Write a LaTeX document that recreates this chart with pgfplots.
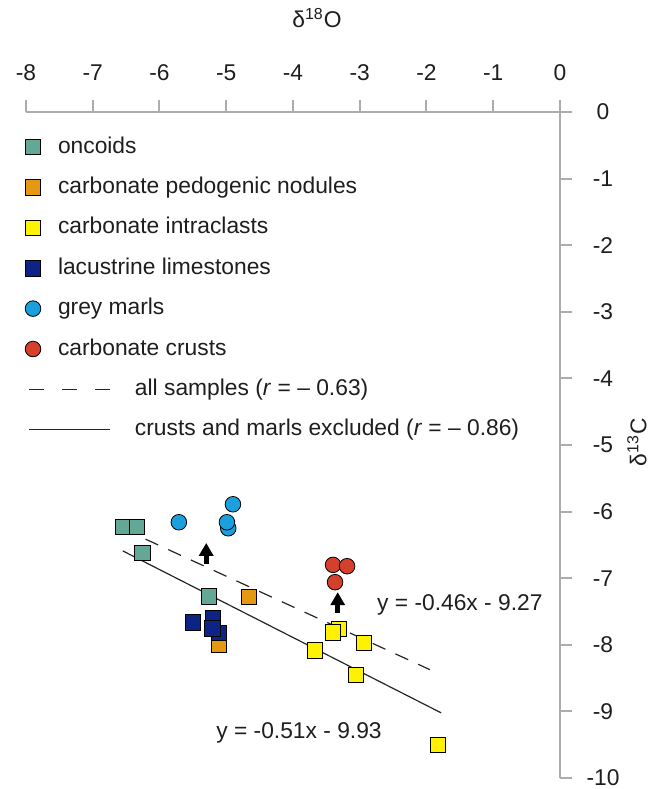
\documentclass[border=0pt]{standalone}
\usepackage{fontspec}
\setmainfont{Liberation Sans}
\usepackage{pgfplots}
\pgfplotsset{compat=1.18}
\usetikzlibrary{arrows.meta}

\definecolor{oncoid}{RGB}{99,167,150}
\definecolor{nodule}{RGB}{229,152,18}
\definecolor{intraclast}{RGB}{255,242,0}
\definecolor{lacustrine}{RGB}{12,36,134}
\definecolor{marl}{RGB}{27,160,222}
\definecolor{crust}{RGB}{212,64,44}
\definecolor{axisgray}{RGB}{172,172,172}
\definecolor{txt}{RGB}{30,30,30}

\pgfplotsset{
  samplemarks/.style={only marks, mark size=3.9pt,
    mark options={draw=black!80, line width=0.6pt}},
  markleg/.style={legend image code/.code={%
    \path[draw=none, fill=none] (-4pt,-4pt) rectangle (4pt,4pt);
    \draw[##1, mark repeat=1, mark phase=1] plot coordinates {(0pt,0pt)};}},
}

\begin{document}
\begin{tikzpicture}[font=\fontsize{11.4pt}{13.7pt}\selectfont, text=txt]
\path[use as bounding box] (-13pt,-5.5pt) rectangle (311.5pt,389pt);
\begin{axis}[
  at={(0pt,0pt)}, anchor=south west,
  scale only axis, width=267pt, height=333pt,
  xmin=-8, xmax=0, ymin=-10, ymax=0,
  axis x line=top, axis y line=right,
  axis line style={-, draw=axisgray, line width=1pt},
  xtick={-8,-7,...,0}, ytick={-10,-9,...,0},
  tick align=outside, major tick length=6pt,
  tick style={draw=axisgray, line width=1pt},
  /pgf/number format/assume math mode=true,
  xticklabel style={anchor=south, inner sep=0pt, yshift=9.5pt},
  yticklabel style={anchor=center, inner sep=0pt, xshift=15.5pt},
  xlabel={δ\textsuperscript{18}O},
  ylabel={δ\textsuperscript{13}C},
  every axis x label/.style={at={([yshift=47pt]rel axis cs:0.545,1)}, anchor=center},
  every axis y label/.style={at={([xshift=38.5pt]rel axis cs:1,0.504)}, anchor=center, rotate=90},
  clip=false,
  legend cell align=left,
  legend style={at={(rel axis cs:0,1)}, anchor=north west,
    xshift=-0.5pt, yshift=-12pt, draw=none, fill=none,
    inner sep=0pt, outer sep=0pt, row sep=9.2pt, column sep=8.5pt,
    nodes={inner sep=0pt, text height=8.5pt, text depth=2.5pt}},
]

% oncoids
\addplot[samplemarks, mark=square*, mark options={fill=oncoid}, markleg]
  coordinates {(-6.55,-6.23) (-6.34,-6.23) (-6.26,-6.62) (-5.26,-7.27)};
\addlegendentry{oncoids}

% carbonate pedogenic nodules
\addplot[samplemarks, mark=square*, mark options={fill=nodule}, markleg]
  coordinates {(-4.66,-7.28) (-5.11,-8.00)};
\addlegendentry{carbonate pedogenic nodules}

% carbonate intraclasts
\addplot[samplemarks, mark=square*, mark options={fill=intraclast}, markleg]
  coordinates {(-3.31,-7.76) (-3.40,-7.81) (-2.94,-7.97) (-3.67,-8.08)
               (-3.06,-8.45) (-1.83,-9.50)};
\addlegendentry{carbonate intraclasts}

% lacustrine limestones
\addplot[samplemarks, mark=square*, mark options={fill=lacustrine}, markleg]
  coordinates {(-5.50,-7.66) (-5.11,-7.82) (-5.20,-7.60) (-5.21,-7.75)};
\addlegendentry{lacustrine limestones}

% grey marls
\addplot[samplemarks, mark=*, mark options={fill=marl}, markleg]
  coordinates {(-5.71,-6.16) (-4.90,-5.89) (-4.97,-6.25) (-4.99,-6.16)};
\addlegendentry{grey marls}

% carbonate crusts
\addplot[samplemarks, mark=*, mark options={fill=crust}, markleg]
  coordinates {(-3.40,-6.80) (-3.19,-6.82) (-3.37,-7.06)};
\addlegendentry{carbonate crusts}

% regression, all samples: y = -0.46x - 9.27
\addplot[black!85, line width=0.6pt, dash pattern=on 7pt off 5.5pt,
  legend image code/.code={%
    \path[draw=none, fill=none] (-4pt,-4pt) rectangle (4pt,4pt);
    \draw[black!85, line width=0.6pt, dash pattern=on 7.5pt off 9pt, overlay]
      (-2pt,0pt) -- (38.5pt,0pt);}]
  coordinates {(-6.55,-6.257) (-1.95,-8.373)};
\addlegendentry{\hspace{38.5pt}all samples (\textit{r} = – 0.63)}

% regression, crusts and marls excluded: y = -0.51x - 9.93
\addplot[black!85, line width=0.6pt,
  legend image code/.code={%
    \path[draw=none, fill=none] (-4pt,-4pt) rectangle (4pt,4pt);
    \draw[black!85, line width=0.6pt, solid, overlay] (-2pt,0pt) -- (38.5pt,0pt);}]
  coordinates {(-6.55,-6.590) (-1.78,-9.022)};
\addlegendentry{\hspace{38.5pt}crusts and marls excluded (\textit{r} = – 0.86)}

% shift arrows above the marl and crust groups
\addplot[forget plot, quiver={u=0, v=0.31}, black, line width=2.5pt,
  -{Triangle[width=7pt, length=6.5pt]}]
  coordinates {(-5.30,-6.78) (-3.33,-7.52)};

\node at (axis cs:-1.50,-7.40) {y = -0.46x - 9.27};
\node at (axis cs:-3.91,-9.32) {y = -0.51x - 9.93};
\end{axis}
\end{tikzpicture}
\end{document}
